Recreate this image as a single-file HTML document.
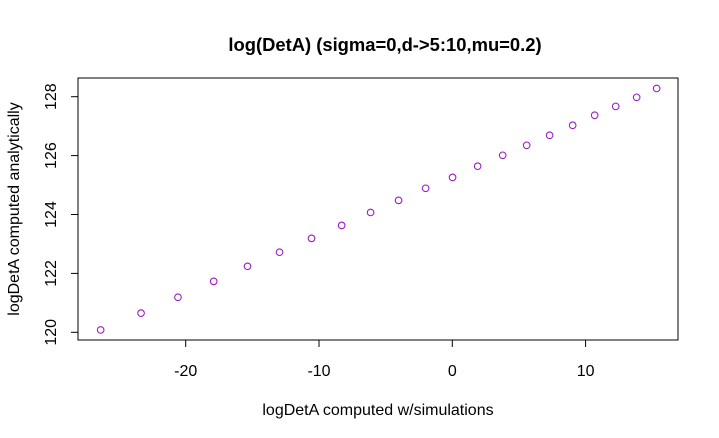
<!DOCTYPE html>
<html><head><meta charset="utf-8"><style>
body{margin:0;background:#fff}
svg{display:block;font-family:"Liberation Sans",Arial,sans-serif}
</style></head><body>
<svg id="chart" width="719" height="438">
<text x="385" y="51" text-anchor="middle" font-size="18.4" font-weight="bold">log(DetA) (sigma=0,d-&gt;5:10,mu=0.2)</text>
<rect x="78" y="78" width="600" height="262" fill="none" stroke="#000" stroke-width="1"/>
<g id="xaxis"></g>
<g id="yaxis"></g>
<g id="points"></g>
<text x="378" y="415" text-anchor="middle" font-size="16">logDetA computed w/simulations</text>
<text transform="translate(19,209) rotate(-90)" text-anchor="middle" font-size="16">logDetA computed analytically</text>
</svg>
<script>
const xVals=[-26.38,-23.35,-20.58,-17.9,-15.36,-12.96,-10.56,-8.3,-6.13,-4.03,-2.0,0.02,1.9,3.78,5.58,7.3,9.03,10.68,12.26,13.83,15.33];
const yVals=[120.08,120.65,121.19,121.73,122.24,122.72,123.19,123.63,124.07,124.48,124.89,125.26,125.64,126.01,126.35,126.69,127.03,127.37,127.67,127.98,128.28];
const xTicks=[-20,-10,0,10];
const yTicks=[120,122,124,126,128];
const NS="http://www.w3.org/2000/svg";
function sx(v){return 452.3+(v-0)*13.33;}
function sy(v){return 332.3-(v-120)*29.45;}
function mk(t,a){const e=document.createElementNS(NS,t);for(const k in a)e.setAttribute(k,a[k]);return e;}
const gx=document.getElementById('xaxis'),gy=document.getElementById('yaxis'),gp=document.getElementById('points');
gx.appendChild(mk('line',{x1:sx(xTicks[0]),x2:sx(xTicks[xTicks.length-1]),y1:340,y2:340,stroke:'#000'}));
xTicks.forEach(t=>{
  const l=mk('line',{x1:sx(t),x2:sx(t),y1:340,y2:347,stroke:'#000'});
  
  
  gx.appendChild(l);
  const tx=mk('text',{x:sx(t),y:376,'text-anchor':'middle','font-size':16});
  tx.textContent=t;
  
  
  gx.appendChild(tx);
});
gy.appendChild(mk('line',{x1:78,x2:78,y1:sy(yTicks[0]),y2:sy(yTicks[yTicks.length-1]),stroke:'#000'}));
yTicks.forEach(t=>{
  const l=mk('line',{x1:71,x2:78,y1:sy(t),y2:sy(t),stroke:'#000'});
  
  
  gy.appendChild(l);
  const tx=mk('text',{transform:`translate(56,${sy(t)}) rotate(-90)`,'text-anchor':'middle','font-size':16});
  tx.textContent=t;
  
  
  gy.appendChild(tx);
});
xVals.forEach((x,i)=>{
  const c=mk('circle',{cx:sx(x),cy:sy(yVals[i]),r:3.3,fill:'none',stroke:'#9a1fc0','stroke-width':1.1});
  
  
  gp.appendChild(c);
});
</script>
</body></html>
